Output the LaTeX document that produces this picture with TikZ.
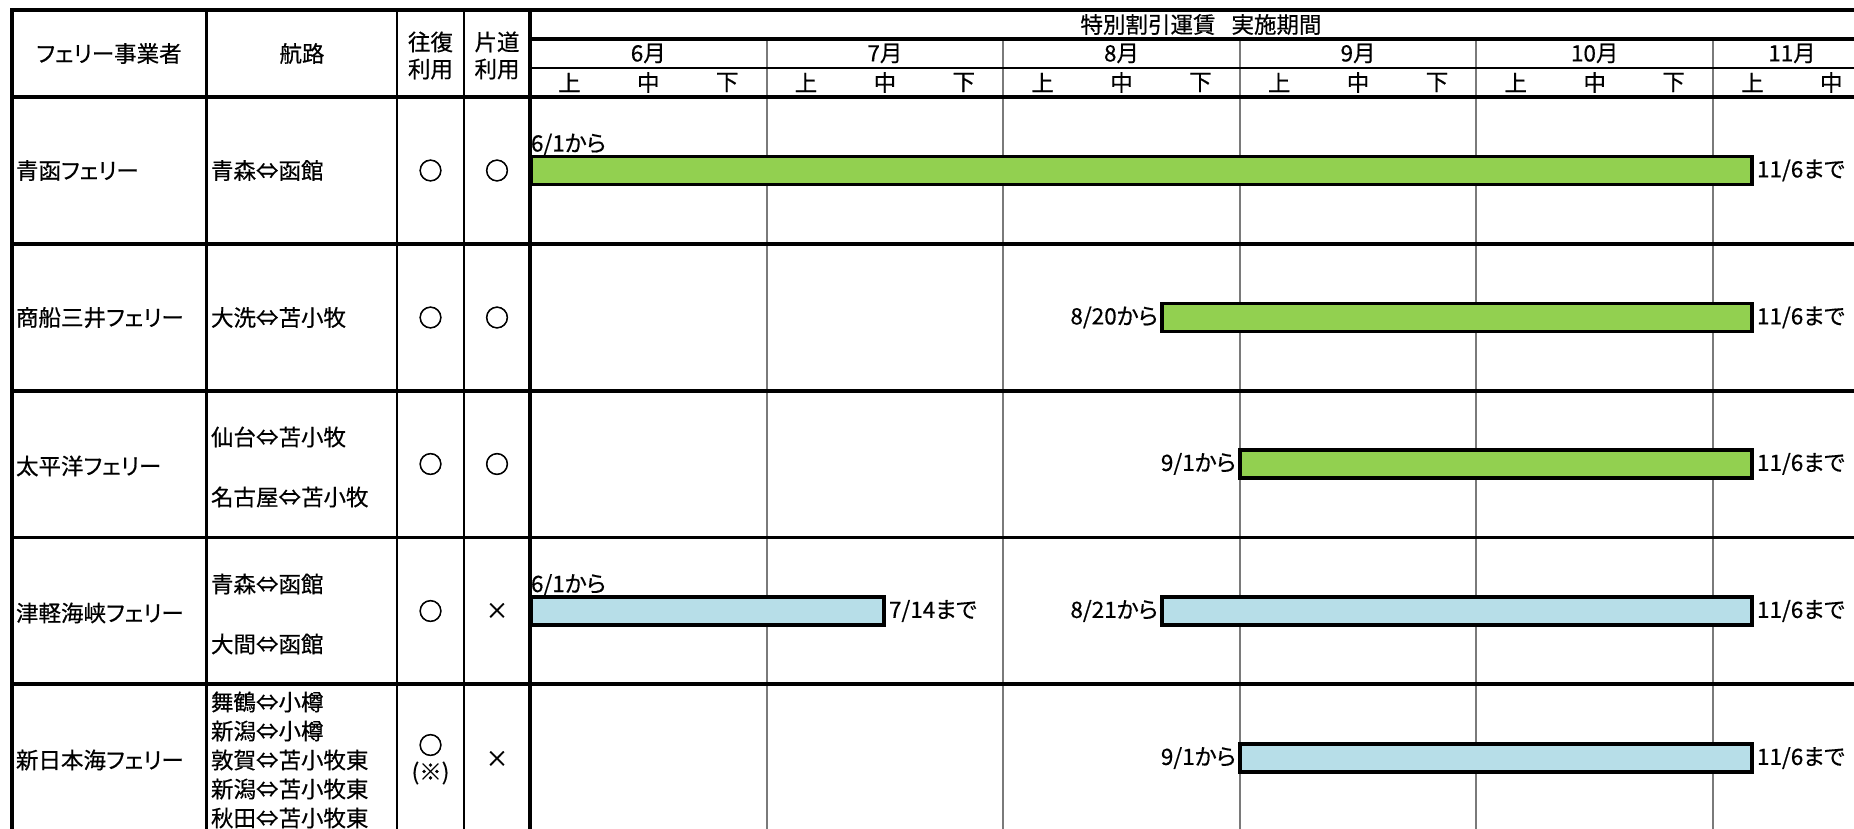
\documentclass[tikz,border=0pt]{standalone}
\usepackage{fontspec}
\setmainfont{Noto Sans CJK JP}[RawFeature=+palt, FakeBold=0.5]
\newfontfamily\markfont{Noto Sans CJK JP}[FakeBold=2.5]
\usetikzlibrary{positioning}
\usepackage{xcolor}
\definecolor{barGreen}{HTML}{92D050}
\definecolor{barBlue}{HTML}{B7DEE8}
\definecolor{gridGray}{HTML}{7A7A7A}

\begin{document}
\begin{tikzpicture}[x=1pt, y=-1pt,
    txt/.style={font=\fontsize{22.5}{27}\selectfont, inner sep=0pt, outer sep=0pt, align=center},
    usemark/.style={txt, font=\markfont\fontsize{24}{28}\selectfont},
    rule/.style={line width=3.6pt},
    thinrule/.style={line width=2pt},
    monthrule/.style={line width=2pt, gridGray},
    bar/.style={draw, line width=3.4pt, minimum height=28pt, inner sep=0pt, outer sep=0pt, anchor=west}]
    \useasboundingbox (0,0) rectangle (1854,829);

    % month dividers
    \foreach \m in {1,...,5}
        \draw[monthrule] (530+236.6*\m,39) -- (530+236.6*\m,829);

    % table rules
    \draw[rule] (12,829) -- (12,10) -- (1854,10);
    \draw[rule] (530,39) -- (1854,39);
    \draw[thinrule] (530,68) -- (1854,68);
    \foreach \y in {97,244,391,537.5,684}
        \draw[rule] (12,\y) -- (1854,\y);
    \draw[rule] (206.5,10) -- (206.5,829);
    \draw[line width=2.6pt] (397,10) -- (397,829);
    \draw[thinrule] (463.5,10) -- (463.5,829);
    \draw[rule] (530,10) -- (530,829);

    % header
    \node[txt] (hcompany) at (109,53.5) {フェリー事業者};
    \node[txt] (hroute) at (302,53.5) {航路};
    \node[txt] (hround) at (430.5,55.5) {往復\\利用};
    \node[txt] (hone) at (497,55.5) {片道\\利用};
    \node[txt] (htitle) at (1201,24.5) {特別割引運賃\hspace{16pt}実施期間};
    \foreach \m [count=\i from 0] in {6,...,10}
        \node[txt] (mon\m) at (648.3+236.6*\i,53.5) {\m 月};
    \node[txt] (mon11) at (1792,53.5) {11月};
    \foreach \i in {0,...,4}
        \foreach \s/\t in {0/上,1/中,2/下}
            \node[txt] (sub\i\s) at (569.4+236.6*\i+78.9*\s,82.5) {\t};
    \node[txt] (sub50) at (1752.4,82.5) {上};
    \node[txt] (sub51) at (1831.3,82.5) {中};

    % rows: company, route, round trip, one way
    \node[txt, anchor=west] (c1) at (16,170.5) {青函フェリー};
    \node[txt, anchor=west] (r1) at (211,170.5) {青森⇔函館};
    \node[usemark] (rt1) at (430.5,170.5) {○};
    \node[usemark] (ow1) at (497,170.5) {○};

    \node[txt, anchor=west] (c2) at (16,317.5) {商船三井フェリー};
    \node[txt, anchor=west] (r2) at (211,317.5) {大洗⇔苫小牧};
    \node[usemark] (rt2) at (430.5,317.5) {○};
    \node[usemark] (ow2) at (497,317.5) {○};

    \node[txt, anchor=west] (c3) at (16,466) {太平洋フェリー};
    \node[txt, anchor=west] (r3a) at (211,437) {仙台⇔苫小牧};
    \node[txt, anchor=west] (r3b) at (211,497) {名古屋⇔苫小牧};
    \node[usemark] (rt3) at (430.5,464) {○};
    \node[usemark] (ow3) at (497,464) {○};

    \node[txt, anchor=west] (c4) at (16,613) {津軽海峡フェリー};
    \node[txt, anchor=west] (r4a) at (211,584) {青森⇔函館};
    \node[txt, anchor=west] (r4b) at (211,644) {大間⇔函館};
    \node[usemark] (rt4) at (430.5,611) {○};
    \node[txt] (ow4) at (497,611) {×};

    \node[txt, anchor=west] (c5) at (16,760) {新日本海フェリー};
    \node[txt, anchor=west, align=left, font=\fontsize{22.5}{29}\selectfont] (r5) at (211,760)
        {舞鶴⇔小樽\\新潟⇔小樽\\敦賀⇔苫小牧東\\新潟⇔苫小牧東\\秋田⇔苫小牧東};
    \node[usemark] (rt5) at (430.5,745) {○};
    \node[txt] (rt5n) at (430.5,773) {(※)};
    \node[txt] (ow5) at (497,759) {×};

    % discount periods
    \node[bar, fill=barGreen, minimum width=1221pt] (b1) at (531,170.5) {};
    \node[txt, anchor=base west] (s1) at ([yshift=5pt]b1.north west) {6/1から};
    \node[txt, right=5pt of b1] (e1) {11/6まで};

    \node[bar, fill=barGreen, minimum width=590pt] (b2) at (1162,317.5) {};
    \node[txt, left=4pt of b2] (s2) {8/20から};
    \node[txt, right=5pt of b2] (e2) {11/6まで};

    \node[bar, fill=barGreen, minimum width=512pt] (b3) at (1240,464) {};
    \node[txt, left=4pt of b3] (s3) {9/1から};
    \node[txt, right=5pt of b3] (e3) {11/6まで};

    \node[bar, fill=barBlue, minimum width=353pt] (b4a) at (531,611) {};
    \node[txt, anchor=base west] (s4a) at ([yshift=5pt]b4a.north west) {6/1から};
    \node[txt, right=5pt of b4a] (e4a) {7/14まで};
    \node[bar, fill=barBlue, minimum width=590pt] (b4b) at (1162,611) {};
    \node[txt, left=4pt of b4b] (s4b) {8/21から};
    \node[txt, right=5pt of b4b] (e4b) {11/6まで};

    \node[bar, fill=barBlue, minimum width=512pt] (b5) at (1240,758) {};
    \node[txt, left=4pt of b5] (s5) {9/1から};
    \node[txt, right=5pt of b5] (e5) {11/6まで};
\end{tikzpicture}
\end{document}
